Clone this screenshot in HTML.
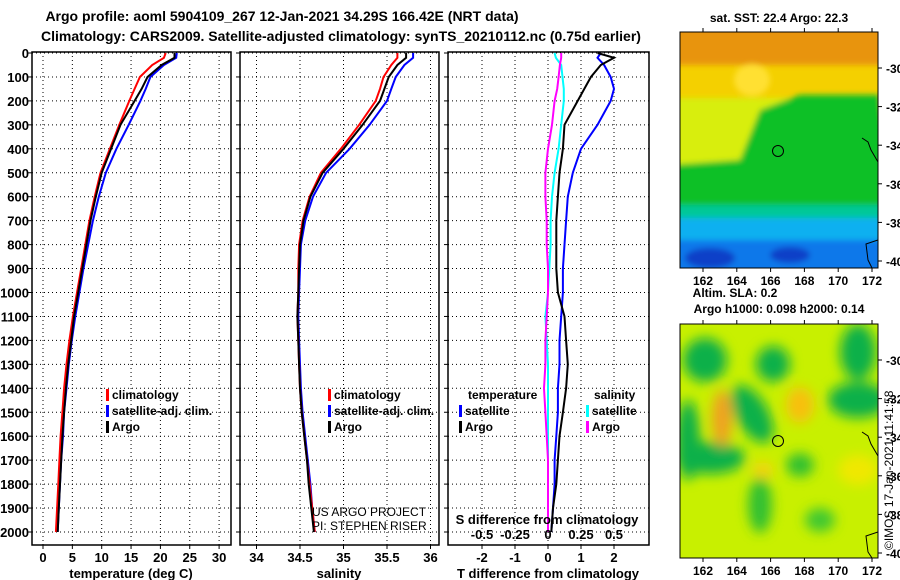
<!DOCTYPE html>
<html><head><meta charset="utf-8">
<style>
body{margin:0;background:#fff;}
svg{display:block;font-family:"Liberation Sans",sans-serif;font-weight:bold;}
text{font-size:13px;fill:#000;}
</style></head>
<body>
<svg id="c" width="900" height="580" viewBox="0 0 900 580">
<defs>
<filter id="bl" x="-20%" y="-20%" width="140%" height="140%"><feGaussianBlur stdDeviation="6"/></filter>
<filter id="bl2" x="-20%" y="-20%" width="140%" height="140%"><feGaussianBlur stdDeviation="3"/></filter>
<clipPath id="m1"><rect x="680" y="32" width="198" height="236"/></clipPath>
<clipPath id="m2"><rect x="680" y="324" width="198" height="234"/></clipPath>
</defs>
<text x="282" y="21" text-anchor="middle" style="font-size:14px">Argo profile: aoml 5904109_267 12-Jan-2021 34.29S 166.42E (NRT data)</text>
<text x="341" y="41" text-anchor="middle" style="font-size:14px">Climatology: CARS2009. Satellite-adjusted climatology: synTS_20210112.nc (0.75d earlier)</text>

<g>
<text x="779" y="22" text-anchor="middle" style="font-size:12px">sat. SST: 22.4 Argo: 22.3</text>
<g clip-path="url(#m1)">
<rect x="680" y="32" width="198" height="236" fill="#f4d000"/>
<g filter="url(#bl2)">
<rect x="670" y="20" width="220" height="45" fill="#e8940c"/>
<ellipse cx="752" cy="80" rx="18" ry="16" fill="#ffe030"/>
<rect x="670" y="98" width="220" height="80" fill="#d8ee10"/>
<path d="M760 110 L800 95 L880 95 L890 180 L670 180 L670 165 L740 160 Z" fill="#10c028"/>
<rect x="670" y="170" width="220" height="40" fill="#10c028"/>
<rect x="670" y="205" width="220" height="18" fill="#00c898"/>
<rect x="670" y="218" width="220" height="28" fill="#10b0f0"/>
<rect x="670" y="240" width="220" height="35" fill="#1078ea"/>
<ellipse cx="710" cy="258" rx="25" ry="10" fill="#0840c8"/>
<ellipse cx="790" cy="255" rx="20" ry="8" fill="#0840c8"/>
</g>
<path d="M862 138 L868 142 L871 150 L878 162" fill="none" stroke="#000" stroke-width="1"/>
<path d="M878 240 L866 244 L868 260 L872 268" fill="none" stroke="#000" stroke-width="1"/>
<circle cx="778" cy="151" r="5.5" fill="none" stroke="#000" stroke-width="1"/>
</g>
<rect x="680" y="32" width="198" height="236" fill="none" stroke="#000"/>
</g>
<g>
<text x="735" y="297" text-anchor="middle" style="font-size:12px">Altim. SLA: 0.2</text>
<text x="779" y="313" text-anchor="middle" style="font-size:12px">Argo h1000: 0.098 h2000: 0.14</text>
<g clip-path="url(#m2)">
<rect x="680" y="324" width="198" height="234" fill="#c8f000"/>
<g filter="url(#bl)">
<ellipse cx="705" cy="360" rx="22" ry="22" fill="#10b048"/>
<ellipse cx="773" cy="364" rx="17" ry="18" fill="#10b048"/>
<ellipse cx="858" cy="352" rx="18" ry="28" fill="#10b048"/>
<ellipse cx="752" cy="414" rx="16" ry="32" fill="#10b048" transform="rotate(-30 752 414)"/>
<ellipse cx="858" cy="400" rx="30" ry="18" fill="#10b048"/>
<ellipse cx="688" cy="440" rx="12" ry="40" fill="#10b048"/>
<ellipse cx="710" cy="458" rx="35" ry="16" fill="#10b048"/>
<ellipse cx="800" cy="465" rx="14" ry="12" fill="#30c030"/>
<ellipse cx="760" cy="505" rx="12" ry="28" fill="#30c030"/>
<ellipse cx="820" cy="520" rx="15" ry="12" fill="#40c830"/>
<ellipse cx="722" cy="418" rx="10" ry="28" fill="#f0a020"/>
<ellipse cx="800" cy="405" rx="14" ry="18" fill="#f8c010"/>
<ellipse cx="763" cy="470" rx="10" ry="8" fill="#f8d010"/>
<ellipse cx="858" cy="470" rx="20" ry="15" fill="#f0e800"/>
</g>
<path d="M862 432 L868 436 L871 444 L878 456" fill="none" stroke="#000" stroke-width="1"/>
<path d="M878 532 L866 536 L868 552 L872 558" fill="none" stroke="#000" stroke-width="1"/>
<circle cx="778" cy="441" r="5.5" fill="none" stroke="#000" stroke-width="1"/>
</g>
<rect x="680" y="324" width="198" height="234" fill="none" stroke="#000"/>
</g>
<text x="0" y="0" transform="translate(893 550) rotate(-90)" style="font-size:12px;font-weight:normal">©IMOS 17-Jan-2021 11:41:58</text>
<g id="root"></g>
</svg>
<script>
// ---- data ----
const depths = [0,20,50,100,150,200,300,400,500,600,700,800,900,1000,1100,1200,1300,1400,1500,1600,1700,1800,1900,2000];
const tempArgo = [22.4,22.4,20.2,17.8,16.8,15.6,13.2,11.6,10.0,9.0,8.1,7.4,6.7,6.0,5.3,4.8,4.3,3.9,3.6,3.3,3.1,2.9,2.7,2.5];
const tempClim = [20.9,20.6,18.6,16.5,15.6,14.7,13.0,11.4,9.8,8.8,7.9,7.2,6.5,5.8,5.1,4.5,4.0,3.6,3.3,3.0,2.8,2.6,2.4,2.2];
const tempSat  = [22.8,22.7,20.6,18.3,17.5,16.6,14.6,12.5,10.7,9.5,8.5,7.7,6.9,6.2,5.5,4.9,4.4,4.0,3.6,3.4,3.1,2.9,2.7,2.5];
const salArgo = [35.72,35.72,35.62,35.52,35.47,35.42,35.22,35.0,34.76,34.62,34.54,34.5,34.49,34.48,34.47,34.48,34.49,34.5,34.52,34.55,34.58,34.6,34.63,34.66];
const salClim = [35.62,35.62,35.55,35.46,35.42,35.37,35.18,34.97,34.74,34.61,34.53,34.49,34.48,34.48,34.47,34.48,34.49,34.5,34.52,34.55,34.58,34.61,34.64,34.67];
const salSat  = [35.8,35.8,35.7,35.6,35.55,35.5,35.3,35.07,34.8,34.65,34.56,34.51,34.5,34.49,34.48,34.49,34.5,34.51,34.53,34.56,34.59,34.62,34.64,34.67];
const dTArgo = [1.5,2.0,1.6,1.3,1.1,0.9,0.5,0.45,0.35,0.3,0.25,0.25,0.25,0.3,0.5,0.55,0.6,0.55,0.45,0.35,0.3,0.25,0.15,0.1];
const dTSat  = [1.6,1.5,1.7,1.9,2.0,1.9,1.5,1.0,0.75,0.6,0.55,0.5,0.45,0.45,0.4,0.35,0.35,0.3,0.3,0.25,0.2,0.2,0.15,0.1];
const dSSat  = [0.05,0.06,0.1,0.11,0.12,0.12,0.1,0.08,0.05,0.03,0.02,0.02,0.01,0.0,-0.02,-0.01,0.0,0.0,0.0,0.0,0.0,0.0,0.0,0.0];
const dSArgo = [0.1,0.1,0.09,0.08,0.07,0.05,0.03,0.0,-0.02,-0.02,-0.01,-0.01,0.0,0.0,-0.01,-0.02,-0.02,-0.03,-0.02,-0.01,0.0,0.0,0.0,0.0];
const depthTicks = [0,100,200,300,400,500,600,700,800,900,1000,1100,1200,1300,1400,1500,1600,1700,1800,1900,2000];
const tempTicks = [0,5,10,15,20,25,30];
const salTicks = [34,34.5,35,35.5,36];
const salTickLabels = ["34","34.5","35","35.5","36"];
const dTTicks = [-2,-1,0,1,2];
const dSTicks = [-0.5,-0.25,0,0.25,0.5];
const dSTickLabels = ["-0.5","-0.25","0","0.25","0.5"];
const lonTicks = [162,164,166,168,170,172];
const latTicks = [-30,-32,-34,-36,-38,-40];

// ---- scales ----
const y = d => 53 + d * 0.2395;
const xT = v => 43 + v * 5.87;
const xS = v => 300 + (v - 34.5) * 87;
const xdT = v => 548 + v * 33;
const xdS = v => 548 + v * 132;
const lonX = v => 703 + (v - 162) * 16.9;
const latY1 = v => 68 + (-30 - v) * 19.3;
const latY2 = v => 360 + (-30 - v) * 19.3;

const NS = "http://www.w3.org/2000/svg";
const root = document.getElementById('root');
function mk(tag, attrs, parent) {
  const e = document.createElementNS(NS, tag);
  for (const k in attrs) e.setAttribute(k, attrs[k]);
  (parent || root).appendChild(e);
  return e;
}
function txt(x, yy, s, anchor, parent, size) {
  const t = mk('text', {x: x, y: yy, 'text-anchor': anchor || 'start'}, parent);
  if (size) t.style.fontSize = size + 'px';
  t.textContent = s;
  return t;
}

const panels = [
  {x0: 32, x1: 231, name: 'temperature-panel'},
  {x0: 240, x1: 439, name: 'salinity-panel'},
  {x0: 448, x1: 649, name: 'difference-panel'}
];
const yTop = 52, yBot = 545;
const pg = [];
panels.forEach(p => {
  const g = mk('g', {});
  
  
  pg.push(g);
  depthTicks.forEach(d => {
    const l = mk('line', {x1: p.x0, x2: p.x1, y1: y(d), y2: y(d), stroke: '#000', 'stroke-width': 1, 'stroke-dasharray': '1 3'}, g);
    
    
    const tk = mk('line', {x1: p.x0 - 4, x2: p.x0, y1: y(d), y2: y(d), stroke: '#000'}, g);
    
    
  });
});
function vgrid(g, ticks, sx) {
  ticks.forEach(v => {
    const l = mk('line', {x1: sx(v), x2: sx(v), y1: yTop, y2: yBot, stroke: '#000', 'stroke-dasharray': '1 3'}, g);
    
    
    const tk = mk('line', {x1: sx(v), x2: sx(v), y1: yBot, y2: yBot + 4, stroke: '#000'}, g);
    
    
  });
}
vgrid(pg[0], tempTicks, xT);
vgrid(pg[1], salTicks, xS);
vgrid(pg[2], dTTicks, xdT);

depthTicks.forEach(d => {
  const t = txt(29, y(d) + 5, String(d), 'end');
  
  
});
tempTicks.forEach(v => {
  const t = txt(xT(v), 562, String(v), 'middle');
  
  
});
salTicks.forEach((v, i) => {
  const t = txt(xS(v), 562, salTickLabels[i], 'middle');
  
  
});
dTTicks.forEach(v => {
  const t = txt(xdT(v), 562, String(v), 'middle');
  
  
});
dSTicks.forEach((v, i) => {
  const t = txt(xdS(v), 539, dSTickLabels[i], 'middle');
  
  
});
let t;
t = txt(131, 578, 'temperature (deg C)', 'middle');


t = txt(339, 578, 'salinity', 'middle');


t = txt(548, 578, 'T difference from climatology', 'middle');


t = txt(547, 524, 'S difference from climatology', 'middle');



function line(g, vals, sx, color, name) {
  let d = '';
  vals.forEach((v, i) => { d += (i ? 'L' : 'M') + sx(v).toFixed(1) + ' ' + y(depths[i]).toFixed(1) + ' '; });
  const p = mk('path', {d: d, fill: 'none', stroke: color, 'stroke-width': 2}, g);
  
  
}
line(pg[0], tempSat, xT, '#0000ff', 'temp-satellite-line');
line(pg[0], tempClim, xT, '#ff0000', 'temp-climatology-line');
line(pg[0], tempArgo, xT, '#000000', 'temp-argo-line');
line(pg[1], salSat, xS, '#0000ff', 'sal-satellite-line');
line(pg[1], salClim, xS, '#ff0000', 'sal-climatology-line');
line(pg[1], salArgo, xS, '#000000', 'sal-argo-line');
line(pg[2], dTSat, xdT, '#0000ff', 'tdiff-satellite-line');
line(pg[2], dTArgo, xdT, '#000000', 'tdiff-argo-line');
line(pg[2], dSSat, xdS, '#00ffff', 'sdiff-satellite-line');
line(pg[2], dSArgo, xdS, '#ff00ff', 'sdiff-argo-line');

panels.forEach((p, i) => {
  const r = mk('rect', {x: p.x0, y: yTop, width: p.x1 - p.x0, height: yBot - yTop, fill: 'none', stroke: '#000', 'stroke-width': 1.5}, pg[i]);
  
  
});

function legend(x, yy, color, label, name) {
  const g = mk('g', {});
  
  
  mk('rect', {x: x, y: yy - 10, width: 3, height: 12, fill: color}, g);
  const tt = txt(x + 6, yy, label, 'start', g, 12);
  tt.style.fontWeight = 'bold';
}
legend(106, 399, '#ff0000', 'climatology', 'legend-climatology');
legend(106, 415, '#0000ff', 'satellite-adj. clim.', 'legend-satellite-adj');
legend(106, 431, '#000000', 'Argo', 'legend-argo');
legend(328, 399, '#ff0000', 'climatology', 'legend-sal-climatology');
legend(328, 415, '#0000ff', 'satellite-adj. clim.', 'legend-sal-satellite-adj');
legend(328, 431, '#000000', 'Argo', 'legend-sal-argo');
t = txt(468, 399, 'temperature', 'start', null, 12);


t = txt(594, 399, 'salinity', 'start', null, 12);


legend(459, 415, '#0000ff', 'satellite', 'legend-tdiff-satellite');
legend(459, 431, '#000000', 'Argo', 'legend-tdiff-argo');
legend(586, 415, '#00ffff', 'satellite', 'legend-sdiff-satellite');
legend(586, 431, '#ff00ff', 'Argo', 'legend-sdiff-argo');
t = txt(312, 516, 'US ARGO PROJECT', 'start', null, 12);
t.style.fontWeight = 'normal';


t = txt(312, 530, 'PI: STEPHEN RISER', 'start', null, 12);
t.style.fontWeight = 'normal';



// map ticks
[[latY1, 268, 32], [latY2, 558, 324]].forEach(m => {
  latTicks.forEach(v => {
    const yy = m[0](v);
    if (yy < m[2] || yy > m[1]) return;
    const tk = mk('line', {x1: 878, x2: 882, y1: yy, y2: yy, stroke: '#000'});
    
    
    const tl = txt(886, yy + 5, String(v), 'start', null, 12);
    
    
  });
  lonTicks.forEach(v => {
    const yb = m[1];
    const tk = mk('line', {x1: lonX(v), x2: lonX(v), y1: yb, y2: yb + 4, stroke: '#000'});
    
    
    const tk2 = mk('line', {x1: lonX(v), x2: lonX(v), y1: m[2] - 4, y2: m[2], stroke: '#000'});
    
    
    const tl = txt(lonX(v), yb + 17, String(v), 'middle', null, 12);
    
    
  });
});
</script>
</body></html>
